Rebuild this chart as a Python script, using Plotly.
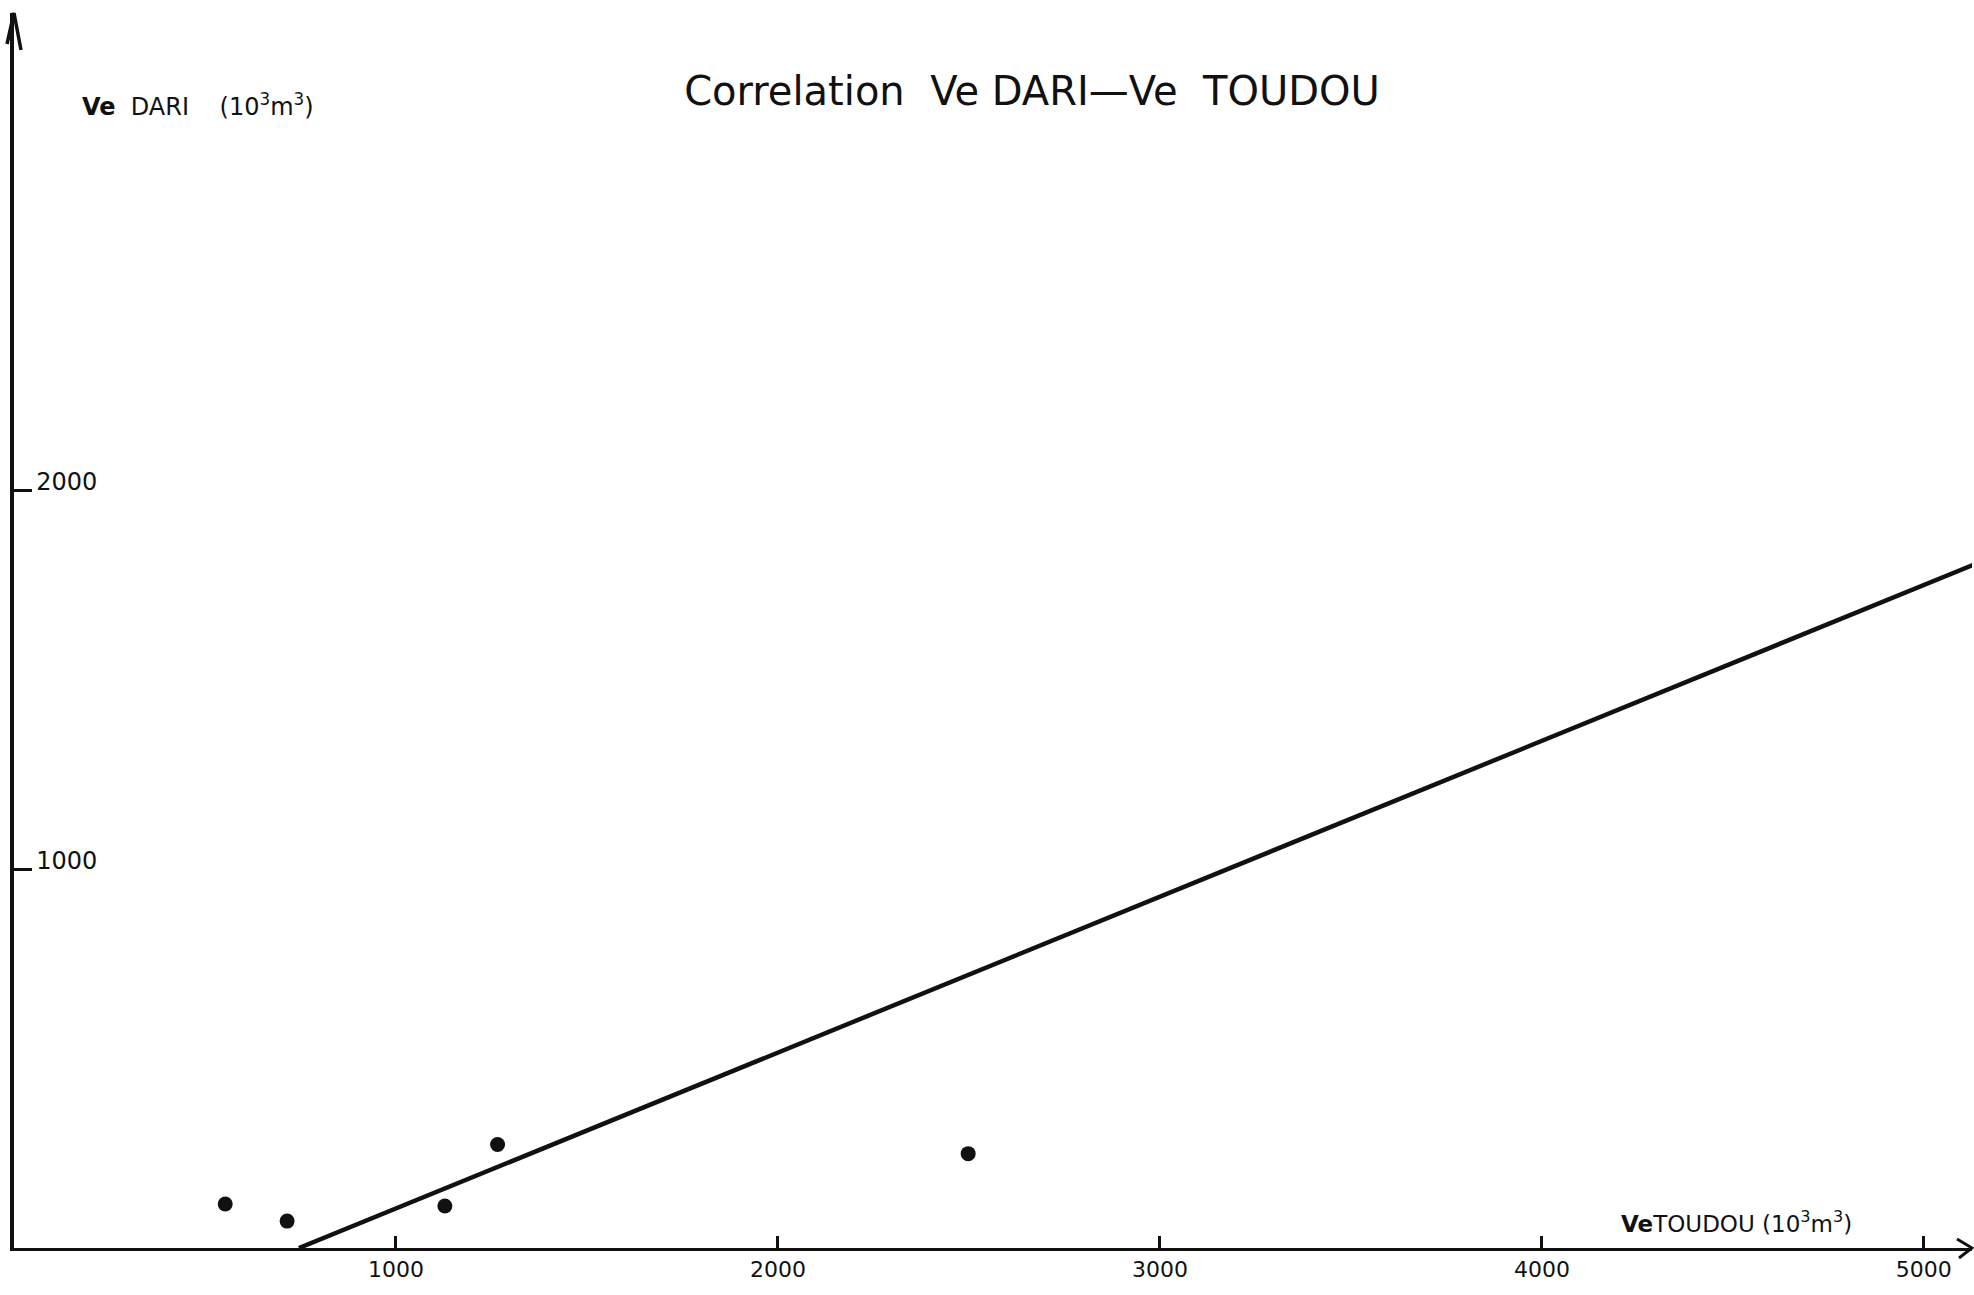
import plotly.graph_objects as go

# Data
toudou = [553, 715, 1128, 1266, 2498]      # Ve TOUDOU (10^3 m^3)
dari = [116, 71, 111, 273, 249]             # Ve DARI (10^3 m^3)
line_x = [746, 5130]                         # regression line endpoints
line_y = [0, 1803]
x_ticks = [1000, 2000, 3000, 4000, 5000]
x_tick_text = ["1000", "2000", "3000", "4000", "5000"]
y_ticks = [1000, 2000]
y_tick_text = ["1000", "2000"]

W, H = 1974, 1295
ML, MR, MT, MB = 14, 2, 13, 47
XMAX = 5126
YMAX = 3259

FONT = "DejaVu Sans"
INK = "#111111"

fig = go.Figure()
fig.add_trace(go.Scatter(x=line_x, y=line_y, mode="lines",
                         line=dict(color=INK, width=4.5), cliponaxis=True,
                         hoverinfo="skip", showlegend=False))
fig.add_trace(go.Scatter(x=toudou, y=dari, mode="markers",
                         marker=dict(color=INK, size=15), showlegend=False))

fig.update_layout(
    width=W, height=H,
    margin=dict(l=ML, r=MR, t=MT, b=MB),
    paper_bgcolor="white", plot_bgcolor="white",
    showlegend=False,
    title=dict(text="Correlation  Ve DARI\u2014Ve  TOUDOU",
               x=1032 / W, y=1 - 91 / H, xanchor="center", yanchor="middle",
               font=dict(family=FONT, size=40, color=INK)),
    font=dict(family=FONT, color=INK),
)

fig.update_xaxes(range=[0, XMAX], showgrid=False, zeroline=False,
                 showline=True, linecolor=INK, linewidth=3,
                 tickmode="array", tickvals=x_ticks, ticktext=x_tick_text,
                 ticks="inside", ticklen=12, tickwidth=2.5, tickcolor=INK,
                 tickfont=dict(family=FONT, size=22, color=INK))
fig.update_yaxes(range=[0, YMAX], showgrid=False, zeroline=False,
                 showline=True, linecolor=INK, linewidth=4,
                 tickmode="array", tickvals=y_ticks, ticktext=y_tick_text,
                 ticks="inside", ticklen=18, tickwidth=2.5, tickcolor=INK,
                 ticklabelposition="inside top",
                 ticklabelstandoff=22, ticklabelshift=10,
                 tickfont=dict(family=FONT, size=24, color=INK))

# Arrowheads on the axes (pixel-sized paths anchored at axis ends)
fig.add_shape(type="path", xref="paper", yref="paper",
              xsizemode="pixel", ysizemode="pixel", xanchor=0, yanchor=1,
              path="M-7,-31 L0,0 L7,-37", line=dict(color=INK, width=3.5))
fig.add_shape(type="path", xref="paper", yref="paper",
              xsizemode="pixel", ysizemode="pixel", xanchor=1, yanchor=0,
              path="M-15,9 L0,0 L-13,-10", line=dict(color=INK, width=3))

pw = W - ML - MR
ph = H - MT - MB
# Axis titles
fig.add_annotation(text="<b>Ve</b>  DARI    (10<sup>3</sup>m<sup>3</sup>)",
                   xref="paper", yref="paper",
                   x=(80 - ML) / pw, y=(H - MB - 105) / ph,
                   xanchor="left", yanchor="middle", showarrow=False,
                   font=dict(family=FONT, size=24, color=INK))
fig.add_annotation(text="<b>Ve</b>TOUDOU (10<sup>3</sup>m<sup>3</sup>)",
                   xref="paper", yref="paper",
                   x=(1619 - ML) / pw, y=(H - MB - 1222) / ph,
                   xanchor="left", yanchor="middle", showarrow=False,
                   font=dict(family=FONT, size=23, color=INK))

fig.write_html("out.html")
